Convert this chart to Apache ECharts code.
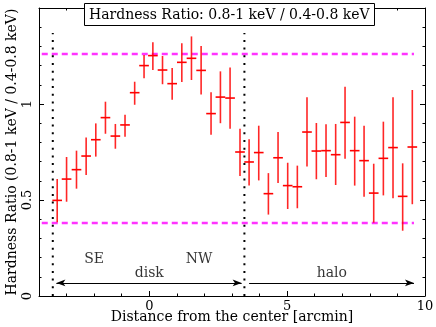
<!DOCTYPE html>
<html>
<head>
<meta charset="utf-8">
<script src="https://cdn.jsdelivr.net/npm/echarts@6/dist/echarts.min.js"></script>
<style>
  html, body { margin: 0; padding: 0; background: #fff; }
  #chart { width: 436px; height: 327px; }
</style>
</head>
<body>
<div id="chart"></div>
<script>
// bin centres [arcmin] and hardness ratio with lower / upper error
const distance = [-3.34, -3.0, -2.64, -2.29, -1.94, -1.59, -1.23, -0.88, -0.53, -0.19,
  0.13, 0.48, 0.83, 1.18, 1.53, 1.88, 2.24, 2.58, 2.93, 3.29,
  3.62, 3.97, 4.32, 4.67, 5.02, 5.37, 5.72, 6.06, 6.41, 6.76,
  7.1, 7.45, 7.79, 8.14, 8.49, 8.84, 9.19, 9.54];
const ratio = [0.498, 0.609, 0.658, 0.729, 0.814, 0.929, 0.833, 0.891, 1.059, 1.2,
  1.252, 1.177, 1.106, 1.217, 1.238, 1.175, 0.95, 1.036, 1.031, 0.75,
  0.698, 0.747, 0.533, 0.72, 0.575, 0.569, 0.854, 0.755, 0.757, 0.736,
  0.904, 0.757, 0.705, 0.536, 0.717, 0.773, 0.519, 0.776];
const ratioLo = [0.384, 0.491, 0.559, 0.63, 0.726, 0.845, 0.767, 0.83, 0.996, 1.134,
  1.177, 1.103, 1.022, 1.115, 1.125, 1.05, 0.84, 0.9, 0.871, 0.625,
  0.575, 0.602, 0.424, 0.589, 0.453, 0.457, 0.674, 0.608, 0.62, 0.578,
  0.715, 0.575, 0.517, 0.382, 0.524, 0.509, 0.34, 0.478];
const ratioHi = [0.609, 0.724, 0.757, 0.826, 0.899, 1.012, 0.896, 0.944, 1.116, 1.255,
  1.321, 1.25, 1.188, 1.316, 1.352, 1.302, 1.061, 1.17, 1.19, 0.871,
  0.816, 0.887, 0.64, 0.854, 0.694, 0.679, 1.035, 0.901, 0.894, 0.896,
  1.09, 0.934, 0.887, 0.689, 0.908, 1.035, 0.691, 1.073];
const binHalfWidth = 0.175;

// reference levels (magenta) and disk / halo boundaries (dotted)
const refLevels = [0.38, 1.26];
const refRange = [-3.9, 9.6];
const boundaries = [-3.5, 3.45];
const boundaryTop = 1.37;

// region arrows and labels
const diskArrow = [-3.37, 3.35];
const haloArrow = [3.62, 9.6];
const arrowY = 0.068;
const noteText = ['SE', 'NW', 'disk', 'halo'];
const noteX = [-2.0, 1.81, 0.0, 6.62];
const noteY = [0.19, 0.19, 0.118, 0.118];

const xMajor = [0, 5, 10];
const yMajor = [0, 0.5, 1];

const FONT = 'DejaVu Serif';

const chart = echarts.init(document.getElementById('chart'), null, { renderer: 'canvas' });

const lineBlack = { show: true, onZero: false, lineStyle: { color: '#000', width: 1 } };
const noLine = { show: false, onZero: false };

function xAx(pos, major, extra) {
  return Object.assign({
    type: 'value', position: pos, min: -4, max: 10, interval: 1,
    axisLine: major ? noLine : lineBlack,
    axisTick: major
      ? { show: true, inside: true, length: 5, customValues: xMajor, lineStyle: { color: '#000' } }
      : { show: true, inside: true, length: 2.5, lineStyle: { color: '#000' } },
    axisLabel: { show: false },
    splitLine: { show: false }
  }, extra || {});
}
function yAx(pos, major, extra) {
  return Object.assign({
    type: 'value', position: pos, min: 0, max: 1.5, interval: 0.1,
    axisLine: major ? noLine : lineBlack,
    axisTick: major
      ? { show: true, inside: true, length: 5, customValues: yMajor, lineStyle: { color: '#000' } }
      : { show: true, inside: true, length: 2.5, lineStyle: { color: '#000' } },
    axisLabel: { show: false },
    splitLine: { show: false }
  }, extra || {});
}

chart.setOption({
  animation: false,
  backgroundColor: '#fff',
  title: {
    text: 'Hardness Ratio: 0.8-1 keV / 0.4-0.8 keV',
    left: 84, top: 3,
    padding: [5, 5, 4, 5],
    borderColor: '#000', borderWidth: 1,
    backgroundColor: '#fff',
    textStyle: { fontFamily: FONT, fontSize: 14, fontWeight: 'normal', color: '#000' }
  },
  grid: { left: 39, right: 11, top: 8, bottom: 31, containLabel: false, outerBoundsMode: 'none' },
  xAxis: [
    xAx('bottom', false, {
      axisLabel: {
        show: true, margin: 4, color: '#000', fontFamily: FONT, fontSize: 13,
        formatter: v => (xMajor.indexOf(v) >= 0 ? String(v) : '')
      },
      name: 'Distance from the center [arcmin]',
      nameLocation: 'middle', nameGap: 14, nameMoveOverlap: false,
      nameTextStyle: { fontFamily: FONT, fontSize: 14, color: '#000' }
    }),
    xAx('bottom', true),
    xAx('top', false),
    xAx('top', true)
  ],
  yAxis: [
    yAx('left', false, {
      axisLabel: {
        show: true, rotate: 90, margin: 5, color: '#000', fontFamily: FONT, fontSize: 13,
        formatter: v => (yMajor.some(m => Math.abs(m - v) < 1e-6) ? String(+v.toFixed(1)) : '')
      },
      name: 'Hardness Ratio (0.8-1 keV / 0.4-0.8 keV)',
      nameLocation: 'middle', nameGap: 20, nameMoveOverlap: false,
      nameTextStyle: { fontFamily: FONT, fontSize: 14, color: '#000' }
    }),
    yAx('left', true),
    yAx('right', false),
    yAx('right', true)
  ],
  series: [
    {
      type: 'line', name: 'ref-low', silent: true, symbol: 'none',
      data: refRange.map(x => [x, refLevels[0]]),
      lineStyle: { color: '#ff33ff', width: 2.5, type: [6, 4] }, z: 2
    },
    {
      type: 'line', name: 'ref-high', silent: true, symbol: 'none',
      data: refRange.map(x => [x, refLevels[1]]),
      lineStyle: { color: '#ff33ff', width: 2.5, type: [6, 4] }, z: 2
    },
    {
      type: 'line', name: 'bound-1', silent: true, symbol: 'none',
      data: [[boundaries[0], 0], [boundaries[0], boundaryTop]],
      lineStyle: { color: '#000', width: 2, type: [2, 5.7] }, z: 3
    },
    {
      type: 'line', name: 'bound-2', silent: true, symbol: 'none',
      data: [[boundaries[1], 0], [boundaries[1], boundaryTop]],
      lineStyle: { color: '#000', width: 2, type: [2, 5.7] }, z: 3,
      markLine: {
        silent: true, symbolSize: [5, 9], label: { show: false },
        lineStyle: { color: '#000', width: 1, type: 'solid' },
        data: [
          [{ coord: [diskArrow[0], arrowY], symbol: 'arrow' }, { coord: [diskArrow[1], arrowY], symbol: 'arrow' }],
          [{ coord: [haloArrow[0], arrowY], symbol: 'none' }, { coord: [haloArrow[1], arrowY], symbol: 'arrow' }]
        ]
      }
    },
    {
      type: 'scatter', name: 'notes', silent: true, symbolSize: 0,
      data: noteText.map((t, i) => ({ value: [noteX[i], noteY[i]], name: t })),
      label: {
        show: true, position: 'inside', formatter: p => p.name,
        fontFamily: FONT, fontSize: 14, color: '#000'
      }
    },
    {
      type: 'custom', name: 'hardness', z: 5,
      data: distance.map((x, i) => [x, ratio[i], ratioLo[i], ratioHi[i]]),
      renderItem: (params, api) => {
        const x = api.value(0), y = api.value(1);
        const top = api.coord([x, api.value(3)]);
        const bot = api.coord([x, api.value(2)]);
        const left = api.coord([x - binHalfWidth, y]);
        const right = api.coord([x + binHalfWidth, y]);
        return {
          type: 'group',
          children: [
            {
              type: 'line',
              shape: { x1: top[0], y1: top[1], x2: bot[0], y2: bot[1] },
              style: { stroke: '#ff0000', lineWidth: 1.6, opacity: 0.85 }
            },
            {
              type: 'line',
              shape: { x1: left[0], y1: left[1], x2: right[0], y2: right[1] },
              style: { stroke: '#ff0000', lineWidth: 1.6 }
            }
          ]
        };
      }
    }
  ]
});
</script>
</body>
</html>
